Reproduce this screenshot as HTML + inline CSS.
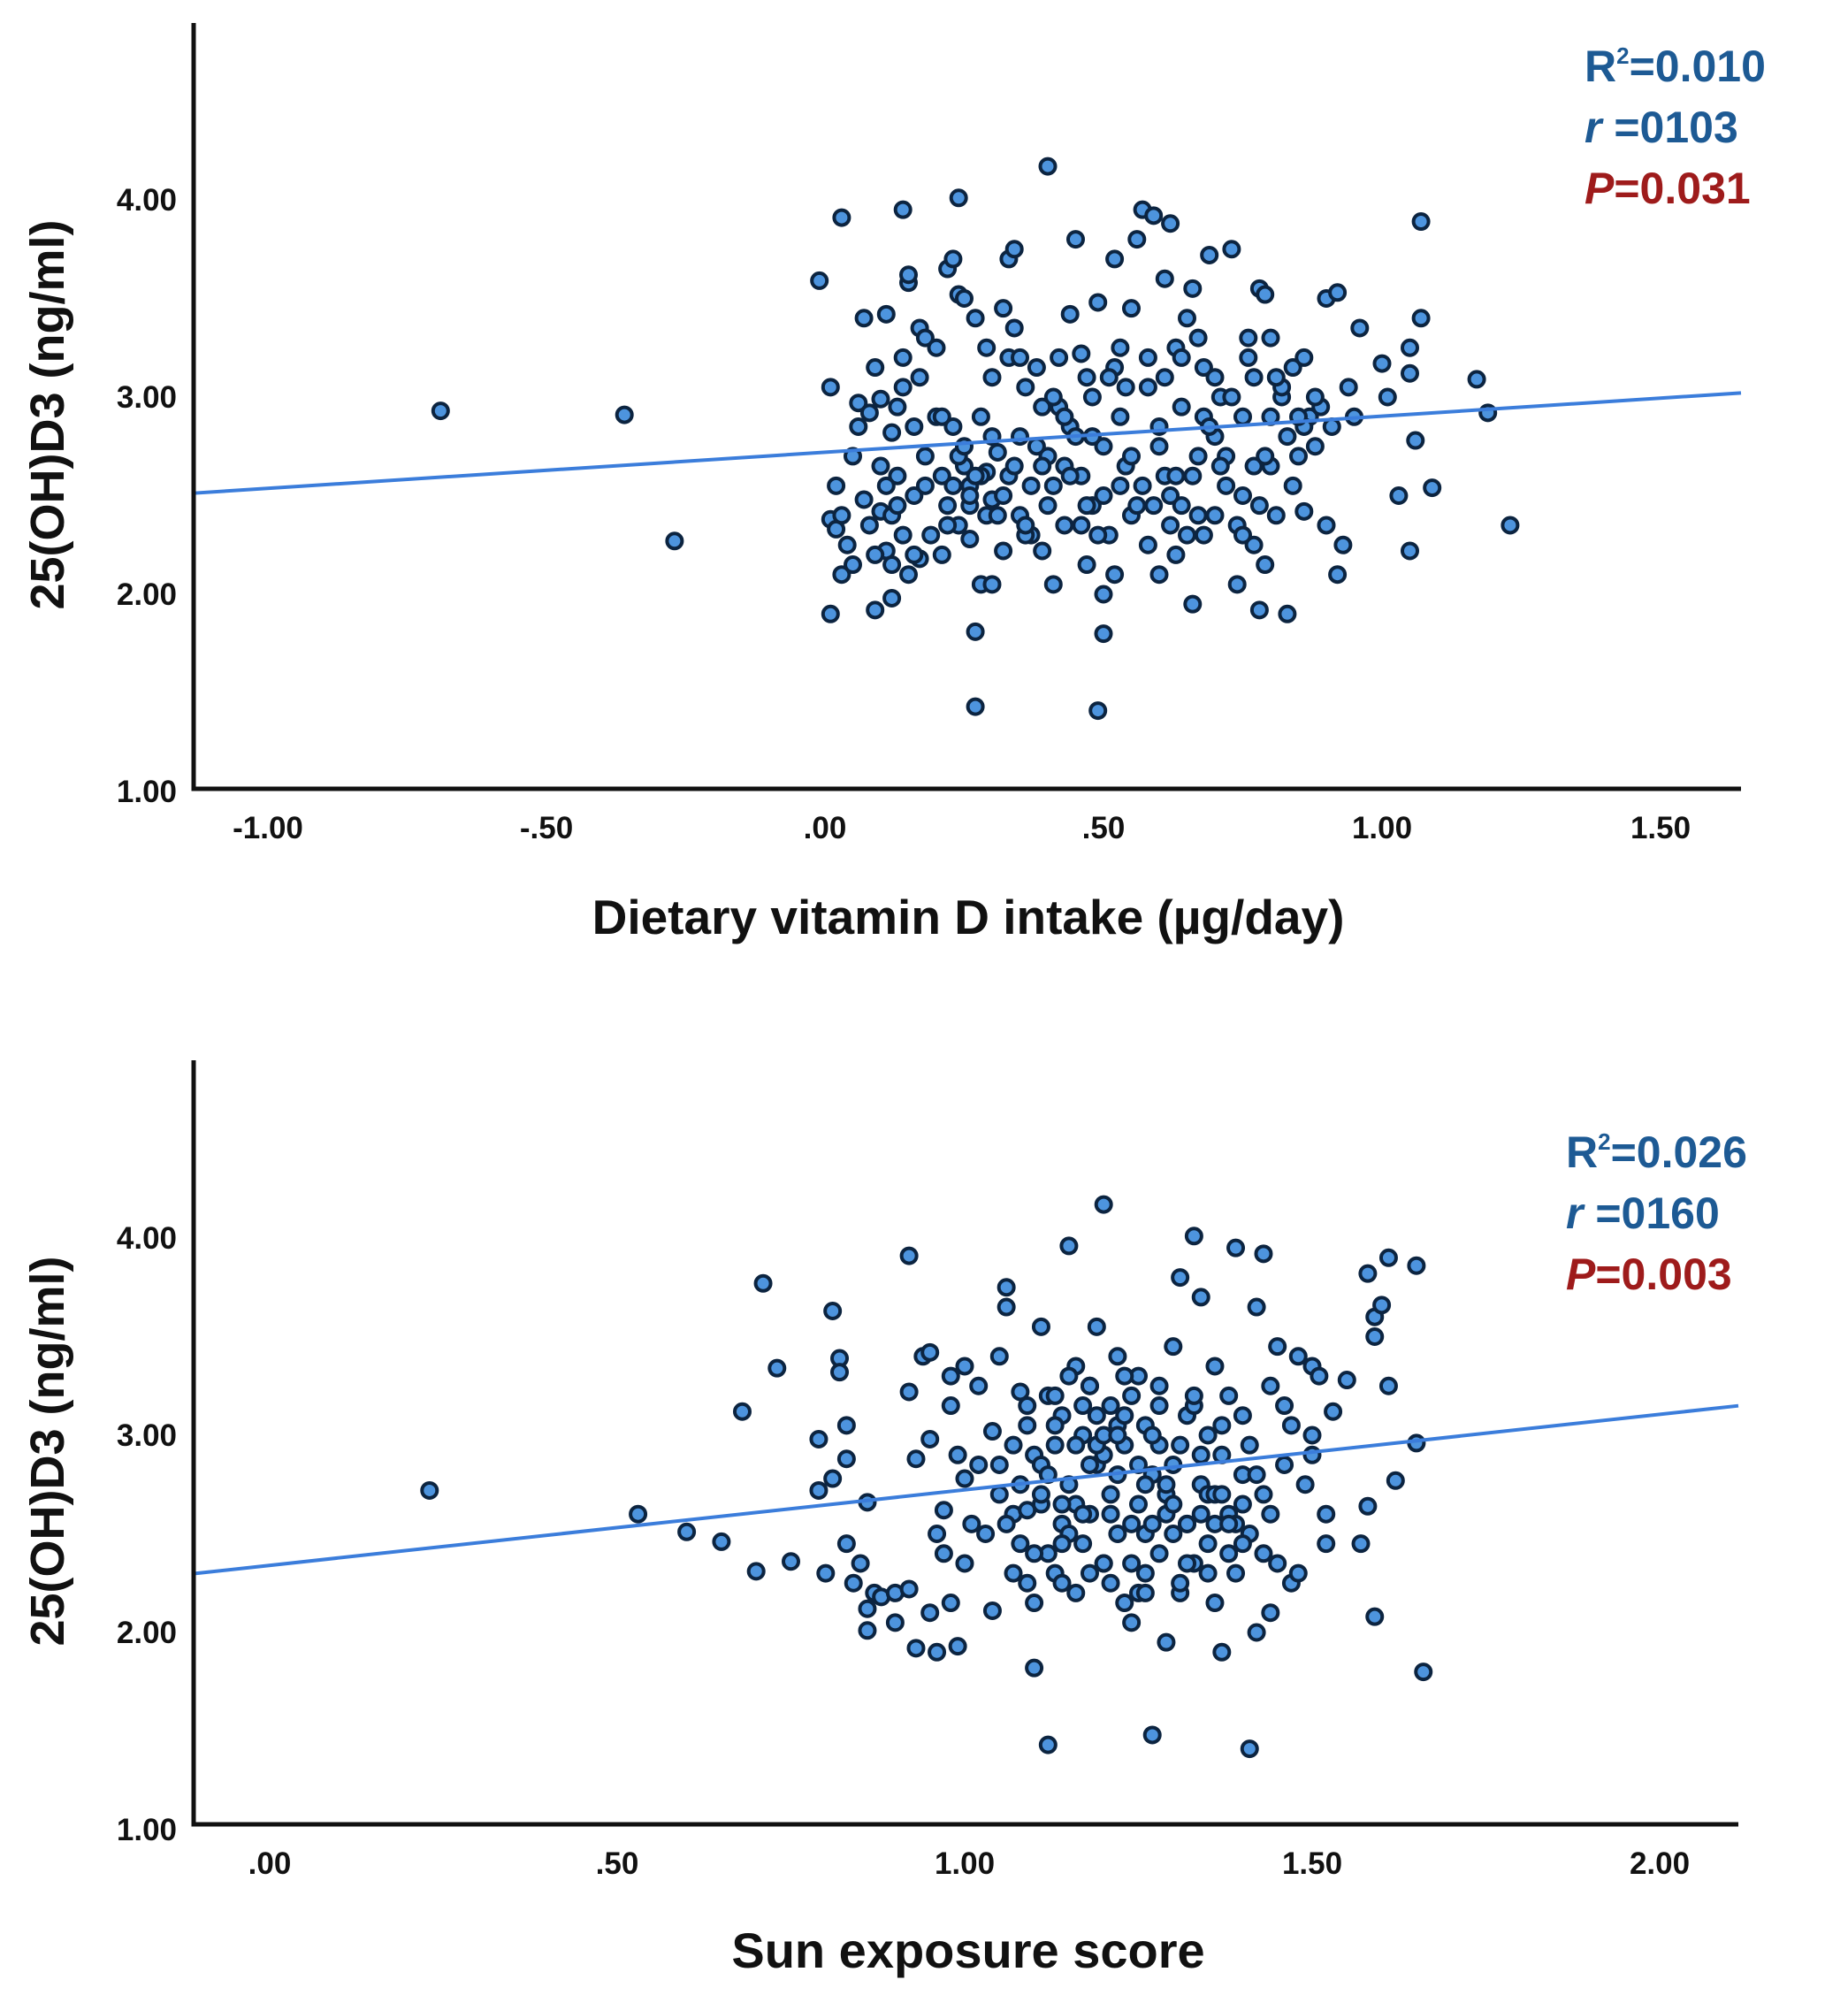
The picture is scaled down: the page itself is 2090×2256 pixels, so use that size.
<!DOCTYPE html>
<html><head><meta charset="utf-8"><style>
body{margin:0;background:#fff}
svg{display:block}
text{font-family:"Liberation Sans",sans-serif}
</style></head><body>
<svg id="s" width="2090" height="2256" viewBox="0 0 2090 2256" xmlns="http://www.w3.org/2000/svg"></svg>
<script>
const topX=[-0.69,-0.36,-0.27,-0.01,0.01,0.02,0.01,0.02,0.03,0.04,0.03,0.01,0.03,0.05,0.06,0.05,0.07,0.06,0.07,0.09,0.08,0.10,0.11,0.09,0.10,0.11,0.12,0.13,0.12,0.13,0.14,0.14,0.15,0.15,0.11,0.12,0.14,0.15,0.16,0.17,0.18,0.16,0.18,0.17,0.20,0.21,0.22,0.22,0.23,0.24,0.24,0.25,0.23,0.21,0.24,0.25,0.26,0.27,0.27,0.27,0.28,0.28,0.29,0.30,0.26,0.29,0.30,0.31,0.32,0.33,0.34,0.32,0.33,0.34,0.35,0.36,0.30,0.35,0.37,0.38,0.39,0.40,0.40,0.41,0.42,0.43,0.44,0.44,0.45,0.46,0.46,0.47,0.48,0.48,0.49,0.49,0.50,0.50,0.50,0.51,0.52,0.53,0.53,0.54,0.55,0.55,0.41,0.39,0.43,0.47,0.52,0.56,0.57,0.58,0.58,0.59,0.60,0.61,0.61,0.62,0.63,0.63,0.64,0.64,0.65,0.66,0.66,0.67,0.68,0.68,0.69,0.70,0.70,0.71,0.60,0.62,0.67,0.72,0.73,0.74,0.75,0.76,0.77,0.77,0.78,0.78,0.79,0.80,0.80,0.81,0.82,0.83,0.83,0.84,0.85,0.86,0.86,0.87,0.88,0.89,0.90,0.91,0.92,0.92,0.93,0.94,0.95,0.96,0.75,0.79,1.00,1.01,1.03,1.05,1.05,1.05,1.06,1.07,1.07,1.09,1.17,1.19,1.23,
0.08,0.10,0.12,0.14,0.16,0.18,0.20,0.22,0.24,0.26,0.28,0.30,0.32,0.34,0.36,0.38,0.40,0.42,0.44,0.46,0.48,0.50,0.52,0.54,0.56,0.58,0.60,0.62,0.64,0.66,0.68,0.70,0.72,0.74,0.76,0.78,0.80,0.82,0.84,0.86,0.09,0.13,0.17,0.21,0.25,0.29,0.33,0.37,0.41,0.45,0.49,0.53,0.57,0.61,0.65,0.69,0.73,0.77,0.81,0.85,0.19,0.23,0.27,0.31,0.35,0.39,0.43,0.47,0.51,0.55,0.59,0.63,0.67,0.71,0.75,0.79,0.88,0.90,0.26,0.36];
const topY=[2.93,2.91,2.27,3.59,3.05,2.55,2.38,2.33,2.40,2.25,2.10,1.90,3.91,2.70,2.85,2.15,2.48,2.97,3.40,3.15,2.92,2.99,3.42,1.92,2.42,2.22,2.15,2.60,2.82,2.95,3.20,3.95,3.58,3.62,2.55,1.98,2.30,2.10,2.85,3.35,3.30,2.50,2.70,2.18,3.25,2.60,2.45,3.65,3.70,4.01,3.52,3.50,2.85,2.20,2.35,2.65,2.55,3.40,1.81,1.43,2.05,2.90,3.25,3.10,2.28,2.62,2.48,2.72,3.45,3.70,3.75,2.22,2.60,3.35,2.80,3.05,2.05,2.40,2.30,3.15,2.95,4.17,2.70,2.55,3.20,2.35,2.85,3.42,3.80,2.60,3.22,2.15,2.45,3.00,3.48,1.41,1.80,2.00,2.75,2.30,3.70,2.90,2.55,3.05,2.40,3.45,2.05,2.22,2.65,3.10,2.10,3.80,3.95,2.25,3.20,3.92,2.85,3.60,2.60,3.88,3.25,2.20,2.95,2.45,3.40,3.55,1.95,2.70,3.15,2.30,3.72,2.80,2.40,3.00,2.10,2.35,3.30,2.55,3.75,2.05,2.90,3.30,2.25,3.10,1.92,3.55,3.52,2.65,3.30,2.40,3.00,2.80,1.90,3.15,2.70,2.42,3.20,2.90,2.75,2.95,3.50,2.85,3.53,2.10,2.25,3.05,2.90,3.35,2.50,2.15,3.17,3.00,2.50,2.22,3.25,3.12,2.78,3.89,3.40,2.54,3.09,2.92,2.35,
2.35,2.65,2.40,3.05,2.20,2.55,2.90,2.35,2.70,2.45,2.60,2.80,2.50,2.65,2.30,2.75,2.45,2.95,2.60,2.35,2.80,2.50,3.15,2.65,2.45,3.05,2.75,2.50,3.20,2.60,2.90,3.10,2.70,2.35,3.20,2.45,2.90,3.05,2.55,2.85,2.20,2.45,3.10,2.90,2.75,2.40,3.20,2.55,3.00,2.80,2.30,3.25,2.55,3.10,2.30,2.85,3.00,2.65,3.10,2.90,2.30,2.55,2.60,2.40,3.20,2.65,2.90,2.45,3.10,2.70,2.45,2.60,2.40,2.65,2.30,2.70,3.00,2.35,2.50,2.35];
const topXTicks=["-1.00","-.50",".00",".50","1.00","1.50"];
const topXTickVals=[-1,-0.5,0,0.5,1,1.5];
const yTicks=["1.00","2.00","3.00","4.00"];
const yTickVals=[1,2,3,4];
const topFit=[2.72,0.183];
const botX=[0.23,0.53,0.60,0.65,0.70,0.75,0.71,0.73,0.68,0.79,0.79,0.81,0.81,0.82,0.82,0.80,0.83,0.83,0.83,0.84,0.85,0.86,0.86,0.86,0.87,0.88,0.90,0.90,0.92,0.92,0.92,0.93,0.93,0.94,0.95,0.95,0.95,0.96,0.97,0.97,0.98,0.98,0.99,0.99,1.00,1.00,1.01,1.02,1.03,1.04,1.04,1.05,1.05,1.06,1.06,1.07,1.07,1.08,1.08,1.09,1.09,1.10,1.10,1.10,1.11,1.11,1.12,1.12,1.12,1.13,1.13,1.14,1.14,1.15,1.15,1.16,1.16,1.17,1.17,1.18,1.18,1.19,1.19,1.20,1.20,1.21,1.21,1.22,1.22,1.23,1.23,1.24,1.24,1.25,1.25,1.26,1.26,1.27,1.27,1.28,1.28,1.29,1.29,1.30,1.30,1.31,1.31,1.32,1.32,1.33,1.33,1.34,1.34,1.35,1.35,1.36,1.36,1.37,1.37,1.38,1.38,1.39,1.39,1.40,1.40,1.41,1.41,1.42,1.42,1.43,1.43,1.44,1.44,1.45,1.45,1.46,1.47,1.47,1.48,1.49,1.50,1.50,1.51,1.52,1.52,1.53,1.55,1.57,1.58,1.58,1.59,1.59,1.59,1.60,1.61,1.61,1.62,1.65,1.65,1.66,1.09,1.11,1.14,1.16,1.18,1.20,1.22,1.24,1.26,1.28,1.30,1.34,1.36,1.38,1.40,
1.05,1.07,1.09,1.11,1.13,1.15,1.17,1.19,1.21,1.23,1.25,1.27,1.29,1.31,1.33,1.35,1.37,1.39,1.41,1.43,1.06,1.08,1.10,1.12,1.14,1.16,1.18,1.20,1.22,1.24,1.26,1.28,1.30,1.32,1.34,1.36,1.38,1.40,1.42,1.44,1.13,1.15,1.17,1.19,1.21,1.23,1.25,1.27,1.29,1.31,1.33,1.35,1.37,0.96,0.98,1.00,1.02,1.46,1.48,1.50,1.18,1.22,1.26,1.14,1.20,1.32];
const botY=[2.72,2.60,2.51,2.46,2.31,2.36,3.77,3.34,3.12,2.98,2.72,2.78,3.63,3.39,3.32,2.30,3.05,2.88,2.45,2.25,2.35,2.66,2.01,2.12,2.20,2.18,2.05,2.20,3.91,3.22,2.22,1.92,2.88,3.40,3.42,2.98,2.10,1.90,2.62,2.40,3.30,2.15,2.90,1.93,3.35,2.78,2.55,3.25,2.50,2.11,3.02,3.40,2.70,3.75,3.65,2.30,2.60,3.22,2.45,3.05,2.25,2.90,1.82,2.15,3.55,2.65,3.20,1.43,2.40,2.95,2.30,3.10,2.55,3.96,2.75,3.35,2.20,3.00,2.45,3.25,2.60,3.55,2.85,4.17,2.35,3.15,2.70,2.50,3.40,2.15,2.95,3.20,2.05,2.65,3.30,2.30,3.05,1.48,2.80,3.25,2.40,1.95,2.60,3.45,2.85,3.80,2.20,3.10,2.55,4.01,2.35,3.70,2.75,3.00,2.45,3.35,2.15,2.90,1.90,3.20,2.60,3.95,2.30,3.10,2.80,1.41,2.50,3.65,2.00,3.92,2.70,2.10,3.25,2.35,3.45,2.85,3.05,2.25,3.40,2.75,3.35,3.00,3.30,2.45,2.60,3.12,3.28,2.45,3.82,2.64,3.60,3.50,2.08,3.66,3.90,3.25,2.77,3.86,2.96,1.80,2.62,2.85,2.25,2.95,2.30,2.90,3.05,2.55,2.75,2.95,2.50,2.60,2.55,2.40,2.65,
2.85,2.95,3.15,2.70,3.05,2.50,3.15,2.95,2.60,3.10,2.85,3.00,2.70,2.95,3.15,2.70,3.05,2.55,2.95,2.40,2.55,2.75,2.40,2.80,2.45,2.65,2.85,3.00,2.80,2.35,2.50,3.15,2.65,2.35,2.90,2.70,2.55,2.45,2.80,2.60,3.20,3.30,2.60,3.10,2.25,3.30,2.20,2.55,2.75,2.25,3.20,2.30,2.70,2.50,3.15,2.35,2.85,3.15,2.30,2.90,3.25,3.00,2.20,2.65,2.35,2.55];
const botXTicks=[".00",".50","1.00","1.50","2.00"];
const botXTickVals=[0,0.5,1,1.5,2];
const botFit=[2.34,0.383];

const NS="http://www.w3.org/2000/svg";
const svg=document.getElementById('s');
function mk(tag,attrs,parent){const e=document.createElementNS(NS,tag);for(const k in attrs)e.setAttribute(k,attrs[k]);(parent||svg).appendChild(e);return e;}

function chart(cfg){
  const g=mk('g',{});
  
  
  const sx=v=>cfg.x0+v*cfg.kx;
  const sy=v=>cfg.y1-(v-1)*cfg.ky;
  const xmin=(cfg.left-cfg.x0)/cfg.kx, xmax=(cfg.right-cfg.x0)/cfg.kx;
  for(let i=0;i<cfg.xs.length;i++){
    const c=mk('circle',{cx:sx(cfg.xs[i]),cy:sy(cfg.ys[i]),r:8.5,fill:'#4d94de',stroke:'#0c2440','stroke-width':4},g);
    
    
  }
  const ln=mk('line',{x1:cfg.left,y1:sy(cfg.fit[0]+cfg.fit[1]*xmin),x2:cfg.right,y2:sy(cfg.fit[0]+cfg.fit[1]*xmax),stroke:'#3b7ddb','stroke-width':4},g);
  
  
  const ax=mk('path',{d:`M${cfg.left} ${cfg.top} V${cfg.bottom} H${cfg.right}`,fill:'none',stroke:'#111','stroke-width':5},g);
  
  
  for(let i=0;i<yTicks.length;i++){
    const t=mk('text',{x:200,y:sy(yTickVals[i])+12,'text-anchor':'end','font-size':35,'font-weight':'bold',fill:'#111'},g);
    t.textContent=yTicks[i];
    
    
  }
  for(let i=0;i<cfg.xt.length;i++){
    const t=mk('text',{x:sx(cfg.xtv[i]),y:cfg.bottom+56,'text-anchor':'middle','font-size':35,'font-weight':'bold',fill:'#111'},g);
    t.textContent=cfg.xt[i];
    
    
  }
  const yt=mk('text',{x:0,y:0,transform:`translate(72 ${(cfg.top+cfg.bottom)/2+10}) rotate(-90)`,'text-anchor':'middle','font-size':54,'font-weight':'bold',fill:'#111'},g);
  yt.textContent='25(OH)D3 (ng/ml)';
  
  
  const xt=mk('text',{x:1095,y:cfg.xtitleY,'text-anchor':'middle','font-size':cfg.xfs,'font-weight':'bold',fill:'#111'},g);
  xt.textContent=cfg.xtitle;
  
  
  const s1=mk('text',{x:cfg.sx,y:cfg.sy,'font-size':50,'font-weight':'bold',fill:'#1d5a94'},g);
  s1.innerHTML='R<tspan dy="-20" font-size="26">2</tspan><tspan dy="20">='+cfg.r2+'</tspan>';
  
  
  const s2=mk('text',{x:cfg.sx,y:cfg.sy+69,'font-size':50,'font-weight':'bold',fill:'#1d5a94'},g);
  s2.innerHTML='<tspan font-style="italic">r</tspan> ='+cfg.r;
  
  
  const s3=mk('text',{x:cfg.sx,y:cfg.sy+138,'font-size':50,'font-weight':'bold',fill:'#9e1b1b'},g);
  s3.innerHTML='<tspan font-style="italic">P</tspan>=' + cfg.p;
  
  
}
chart({name:'dietary-intake-scatter',xs:topX,ys:topY,xt:topXTicks,xtv:topXTickVals,fit:topFit,
  x0:933,kx:630,y1:895,ky:223,left:219,right:1969,top:26,bottom:892,
  xtitle:'Dietary vitamin D intake (µg/day)',xtitleY:1056,xfs:55,sx:1792,sy:92,r2:'0.010',r:'0103',p:'0.031'});
chart({name:'sun-exposure-scatter',xs:botX,ys:botY,xt:botXTicks,xtv:botXTickVals,fit:botFit,
  x0:305,kx:786,y1:2069,ky:223,left:219,right:1966,top:1199,bottom:2063,
  xtitle:'Sun exposure score',xtitleY:2225,xfs:56,sx:1771,sy:1320,r2:'0.026',r:'0160',p:'0.003'});
</script>
</body></html>
